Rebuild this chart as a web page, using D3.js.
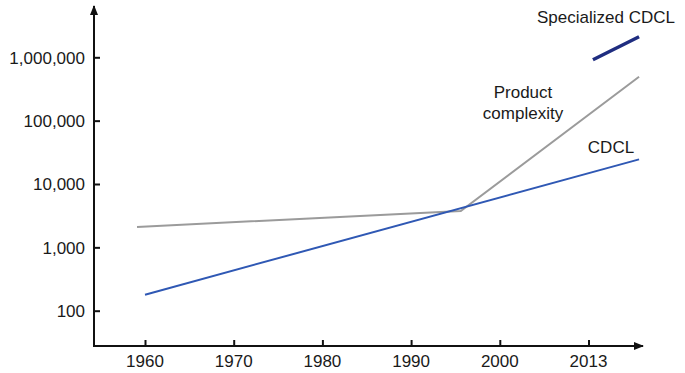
<!DOCTYPE html>
<html>
<head>
<meta charset="utf-8">
<script src="https://cdn.jsdelivr.net/npm/d3@7"></script>
<style>
  html, body { margin: 0; padding: 0; background: #fff; }
  svg { display: block; font-family: "Liberation Sans", Arial, Helvetica, sans-serif; }
</style>
</head>
<body>
<svg id="chart" width="685" height="373"></svg>
<script>
// Tick positions along the time axis (decades) and the labels printed under them
const xTickYears = [1960, 1970, 1980, 1990, 2000, 2010];
const xTickLabels = ["1960", "1970", "1980", "1990", "2000", "2013"];
const yTicks = [100, 1000, 10000, 100000, 1000000];

// Series: [year position, value]
const cdcl = [[1960.0, 179], [2015.7, 24500]];
const productComplexity = [[1959.1, 2095], [1995.6, 3750], [2015.7, 494000]];
const specializedCdcl = [[2010.5, 916000], [2015.7, 2115000]];

const svg = d3.select("#chart");

const x = d3.scaleLinear().domain([1960, 2010]).range([145, 588.5]);
const y = d3.scaleLog().domain([100, 1000000]).range([310.7, 57.3]);

const axisX0 = 94, axisY0 = 346;
const fmt = d3.format(",");
const fontSize = 17;

// Axis lines with arrow heads
const defs = svg.append("defs");
defs.append("marker")
  .attr("id", "arrow")
  .attr("viewBox", "0 0 10 10")
  .attr("refX", 9).attr("refY", 5)
  .attr("markerWidth", 5).attr("markerHeight", 5)
  .attr("markerUnits", "strokeWidth")
  .attr("orient", "auto")
  .append("path").attr("d", "M0,1 L10,5 L0,9 Z").attr("fill", "#111");

svg.append("line")
  .attr("x1", axisX0).attr("y1", axisY0)
  .attr("x2", axisX0).attr("y2", 6)
  .attr("stroke", "#111").attr("stroke-width", 2)
  .attr("marker-end", "url(#arrow)");
svg.append("line")
  .attr("x1", axisX0 - 1).attr("y1", axisY0)
  .attr("x2", 643).attr("y2", axisY0)
  .attr("stroke", "#111").attr("stroke-width", 2)
  .attr("marker-end", "url(#arrow)");

// Y axis ticks and labels
const yAxis = d3.axisRight(y).tickValues(yTicks).tickSize(6).tickFormat("");
const gy = svg.append("g").attr("transform", `translate(${axisX0},0)`).call(yAxis);
gy.select(".domain").remove();
gy.selectAll(".tick line").attr("stroke", "#111").attr("stroke-width", 2);

svg.append("g").selectAll("text")
  .data(yTicks)
  .join("text")
  .attr("x", 85)
  .attr("y", d => y(d))
  .attr("dy", "0.38em")
  .attr("text-anchor", "end")
  .attr("font-size", fontSize)
  .attr("fill", "#1a1a1a")
  .text(d => fmt(d));

// X axis ticks and labels
const xAxis = d3.axisTop(x).tickValues(xTickYears).tickSize(6).tickFormat("");
const gx = svg.append("g").attr("transform", `translate(0,${axisY0})`).call(xAxis);
gx.select(".domain").remove();
gx.selectAll(".tick line").attr("stroke", "#111").attr("stroke-width", 2);

svg.append("g").selectAll("text")
  .data(xTickYears)
  .join("text")
  .attr("x", d => x(d))
  .attr("y", 367)
  .attr("text-anchor", "middle")
  .attr("font-size", fontSize)
  .attr("fill", "#1a1a1a")
  .text((d, i) => xTickLabels[i]);

// Lines
const line = d3.line().x(d => x(d[0])).y(d => y(d[1]));

svg.append("path").datum(productComplexity)
  .attr("d", line).attr("fill", "none")
  .attr("stroke", "#9b9b9b").attr("stroke-width", 2);

svg.append("path").datum(cdcl)
  .attr("d", line).attr("fill", "none")
  .attr("stroke", "#2f58b4").attr("stroke-width", 2);

svg.append("path").datum(specializedCdcl)
  .attr("d", line).attr("fill", "none")
  .attr("stroke", "#1f2d80").attr("stroke-width", 3.5);

// Series labels
const labels = [
  { text: "Specialized CDCL", x: 606, y: 23 },
  { text: "Product", x: 523, y: 98 },
  { text: "complexity", x: 523, y: 119 },
  { text: "CDCL", x: 611, y: 153 }
];
svg.append("g").selectAll("text")
  .data(labels)
  .join("text")
  .attr("x", d => d.x)
  .attr("y", d => d.y)
  .attr("text-anchor", "middle")
  .attr("font-size", fontSize)
  .attr("fill", "#1a1a1a")
  .text(d => d.text);
</script>
</body>
</html>
